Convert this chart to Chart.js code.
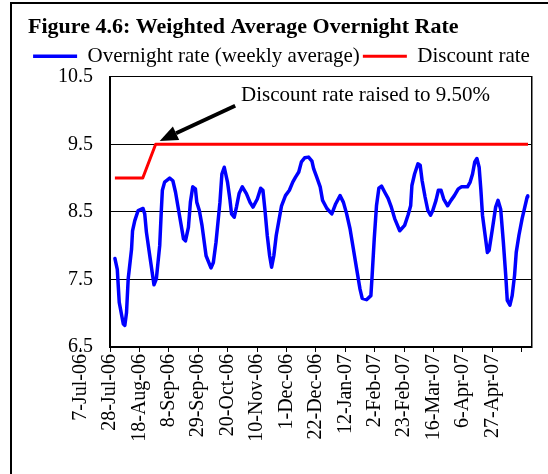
<!DOCTYPE html>
<html>
<head>
<meta charset="utf-8">
<script src="https://cdn.jsdelivr.net/npm/chart.js@4.4.1/dist/chart.umd.min.js"></script>
<style>
  html, body { margin: 0; padding: 0; background: #fff; overflow: hidden; }
  #frame { position: absolute; left: 10px; top: 2px; width: 700px; height: 700px; border: 2px solid #000; }
  #chart { position: absolute; left: 0; top: 0; }
</style>
</head>
<body>
<div id="frame"></div>
<canvas id="chart" width="548" height="474"></canvas>
<script>
// x values are days counted from 7-Jul-06
const tickDays = [0, 21, 42, 63, 84, 105, 126, 147, 168, 189, 210, 231, 252, 273, 294, 315];
const tickLabels = ['7-Jul-06', '28-Jul-06', '18-Aug-06', '8-Sep-06', '29-Sep-06', '20-Oct-06',
  '10-Nov-06', '1-Dec-06', '22-Dec-06', '12-Jan-07', '2-Feb-07', '23-Feb-07', '16-Mar-07',
  '6-Apr-07', '27-Apr-07', ''];

const overnightDays = [24.5, 26.2, 27.6, 30.5, 31.6, 32.8, 34.0, 36.4, 37.1, 38.7, 41.1, 44.6, 45.8,
  47.0, 49.4, 52.4, 54.1, 56.5, 57.7, 58.4, 60.0, 63.6, 65.9, 67.8, 70.6, 73.5, 74.9, 77.0, 78.4,
  80.1, 82.0, 83.0, 84.8, 86.7, 89.6, 93.1, 94.8, 96.7, 99.5, 100.9, 102.6, 104.9, 106.6, 107.8,
  109.7, 111.3, 113.2, 115.5, 118.4, 121.0, 123.1, 126.2, 128.6, 130.2, 131.6, 133.3, 135.0, 136.4,
  138.0, 139.7, 141.6, 143.5, 146.3, 149.1, 151.5, 153.4, 155.8, 157.7, 160.0, 162.8, 165.2, 166.4,
  168.7, 171.1, 172.8, 175.9, 179.4, 182.2, 185.3, 187.7, 190.0, 192.4, 194.8, 197.1, 199.5, 201.1,
  204.2, 207.3, 208.2, 209.7, 211.3, 213.0, 214.9, 217.2, 219.6, 221.9, 224.3, 227.9, 231.4, 233.8,
  235.7, 236.6, 238.5, 240.9, 242.5, 243.9, 246.0, 248.0, 249.9, 251.5, 253.8, 255.5, 257.4, 259.3,
  262.1, 264.5, 266.9, 269.7, 272.1, 276.3, 278.2, 279.9, 281.5, 283.0, 284.6, 285.8, 287.0, 288.9,
  290.5, 291.7, 294.1, 296.4, 298.1, 300.0, 301.9, 303.6, 304.7, 306.6, 308.2, 309.9, 311.1, 313.0,
  315.3, 318.9, 319.3];
const overnightRate = [7.81, 7.65, 7.16, 6.84, 6.82, 7.01, 7.51, 7.95, 8.22, 8.37, 8.52, 8.55, 8.47,
  8.20, 7.85, 7.42, 7.51, 8.00, 8.54, 8.82, 8.94, 9.00, 8.96, 8.79, 8.45, 8.10, 8.07, 8.27, 8.64,
  8.87, 8.84, 8.64, 8.52, 8.30, 7.85, 7.67, 7.75, 8.05, 8.64, 9.06, 9.16, 8.94, 8.69, 8.47,
  8.42, 8.57, 8.77, 8.87, 8.77, 8.64, 8.57, 8.69, 8.85, 8.82, 8.54, 8.15, 7.85, 7.68,
  7.85, 8.15, 8.37, 8.59, 8.74, 8.82, 8.94, 9.01, 9.09, 9.24, 9.30, 9.31, 9.25, 9.14,
  9.01, 8.87, 8.67, 8.55, 8.47, 8.62, 8.74, 8.64, 8.47, 8.25, 7.95, 7.66, 7.36, 7.22,
  7.20, 7.26, 7.56, 8.10, 8.59, 8.85, 8.88, 8.79, 8.70, 8.57, 8.40, 8.22, 8.30, 8.45,
  8.59, 8.89, 9.06, 9.21, 9.19, 8.96, 8.72, 8.52, 8.45, 8.52, 8.67, 8.82, 8.82, 8.69,
  8.59, 8.67, 8.74, 8.84, 8.87, 8.87, 8.94, 9.06, 9.24, 9.29, 9.16, 8.84, 8.45, 8.15,
  7.90, 7.93, 8.25, 8.57, 8.67, 8.54, 8.05, 7.56, 7.19, 7.12, 7.26, 7.56, 7.90, 8.15,
  8.40, 8.72, 8.74];

const discountDays = [24.5, 44.4, 53.6, 319.5];
const discountRate = [9.0, 9.0, 9.5, 9.5];

const note = { text: 'Discount rate raised to 9.50%', day: 114.6, value: 10.22 };
const arrow = { fromDay: 110.4, fromValue: 10.07, toDay: 56.5, toValue: 9.55 };

const serif = '"Liberation Serif", "Times New Roman", serif';

const pairs = (xs, ys) => xs.map((d, i) => ({ x: d, y: ys[i] }));

// text label and arrow for the rate rise
const notePlugin = {
  id: 'note',
  afterDatasetsDraw(chart) {
    const { ctx, scales: { x, y } } = chart;
    ctx.save();
    ctx.fillStyle = '#000';
    ctx.font = '21px ' + serif;
    ctx.textBaseline = 'middle';
    ctx.fillText(note.text, x.getPixelForValue(note.day), y.getPixelForValue(note.value));

    const x1 = x.getPixelForValue(arrow.fromDay), y1 = y.getPixelForValue(arrow.fromValue);
    const x2 = x.getPixelForValue(arrow.toDay), y2 = y.getPixelForValue(arrow.toValue);
    const ang = Math.atan2(y2 - y1, x2 - x1);
    const head = 18, half = 7.5;
    const bx = x2 - Math.cos(ang) * head, by = y2 - Math.sin(ang) * head;
    ctx.strokeStyle = '#000';
    ctx.lineWidth = 4;
    ctx.beginPath();
    ctx.moveTo(x1, y1);
    ctx.lineTo(bx, by);
    ctx.stroke();
    ctx.beginPath();
    ctx.moveTo(x2, y2);
    ctx.lineTo(bx + Math.sin(ang) * half, by - Math.cos(ang) * half);
    ctx.lineTo(bx - Math.sin(ang) * half, by + Math.cos(ang) * half);
    ctx.closePath();
    ctx.fill();
    ctx.restore();
  }
};

new Chart(document.getElementById('chart'), {
  type: 'line',
  data: {
    datasets: [{
      label: 'Overnight rate (weekly average)',
      data: pairs(overnightDays, overnightRate),
      borderColor: '#0000ff',
      backgroundColor: '#0000ff',
      borderWidth: 3.5,
      pointRadius: 0,
      pointStyle: 'line',
      tension: 0,
      borderJoinStyle: 'round',
      borderCapStyle: 'round'
    }, {
      label: 'Discount rate',
      data: pairs(discountDays, discountRate),
      borderColor: '#ff0000',
      backgroundColor: '#ff0000',
      borderWidth: 3,
      pointRadius: 0,
      pointStyle: 'line',
      tension: 0,
      borderJoinStyle: 'round'
    }]
  },
  options: {
    responsive: false,
    animation: false,
    events: [],
    layout: { padding: { left: 28, right: 13, top: 0, bottom: 0 } },
    plugins: {
      title: {
        display: true,
        text: 'Figure 4.6: Weighted Average Overnight Rate',
        align: 'start',
        color: '#000',
        font: { family: serif, size: 22, weight: 'bold' },
        padding: { top: 14.3, bottom: 2 }
      },
      legend: {
        display: true,
        labels: {
          color: '#000',
          font: { family: serif, size: 21 },
          usePointStyle: true,
          pointStyleWidth: 44,
          padding: 3
        }
      },
      tooltip: { enabled: false }
    },
    scales: {
      x: {
        type: 'linear',
        min: 21,
        max: 322,
        afterBuildTicks: s => { s.ticks = tickDays.map(v => ({ value: v })); },
        afterFit: s => { s.height = 127; },
        ticks: {
          autoSkip: false,
          minRotation: 90,
          maxRotation: 90,
          padding: 2,
          color: '#000',
          font: { family: serif, size: 20 },
          callback: v => tickLabels[tickDays.indexOf(v)]
        },
        grid: { drawOnChartArea: false, drawTicks: true, tickLength: 5, color: '#000', lineWidth: 1 },
        border: { display: true, color: '#000', width: 2 }
      },
      y: {
        min: 6.5,
        max: 10.5,
        afterBuildTicks: s => { s.ticks = [6.5, 7.5, 8.5, 9.5, 10.5].map(v => ({ value: v })); },
        afterFit: s => { s.width = 82; },
        ticks: {
          padding: 17,
          color: '#000',
          font: { family: serif, size: 20 },
          callback: v => v.toFixed(1)
        },
        grid: { drawTicks: false, color: '#000', lineWidth: 1 },
        border: { display: true, color: '#000', width: 2 }
      },
      yRight: {
        position: 'right',
        min: 6.5,
        max: 10.5,
        afterFit: s => { s.width = 0; },
        ticks: { display: false },
        grid: { drawOnChartArea: false, drawTicks: false },
        border: { display: true, color: '#000', width: 1.5 }
      }
    }
  },
  plugins: [notePlugin]
});
</script>
</body>
</html>
